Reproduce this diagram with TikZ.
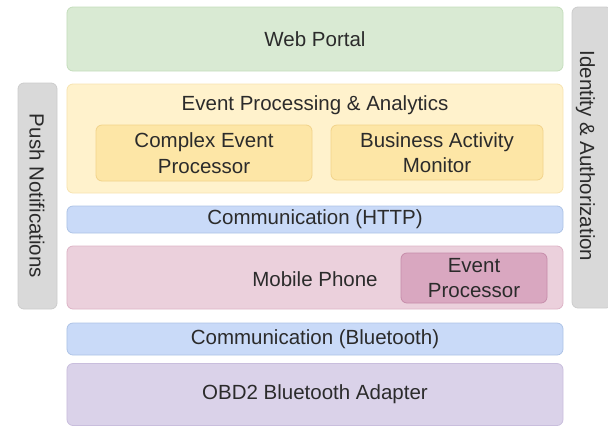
\documentclass[tikz,border=0pt]{standalone}
\usepackage{fontspec}
\setmainfont{Liberation Sans}
\definecolor{txt}{HTML}{2B2B2B}
\definecolor{webfill}{HTML}{D9EAD3}\definecolor{webdraw}{HTML}{C4DDBC}
\definecolor{epafill}{HTML}{FFF2CC}\definecolor{epadraw}{HTML}{F7E3B0}
\definecolor{subfill}{HTML}{FDE6A6}\definecolor{subdraw}{HTML}{F2D38A}
\definecolor{comfill}{HTML}{C9DAF8}\definecolor{comdraw}{HTML}{ADC3E6}
\definecolor{mobfill}{HTML}{EBD0DC}\definecolor{mobdraw}{HTML}{DDB4C6}
\definecolor{evpfill}{HTML}{D9A7C0}\definecolor{evpdraw}{HTML}{C68DAA}
\definecolor{obdfill}{HTML}{DAD2E9}\definecolor{obddraw}{HTML}{C9BEDD}
\definecolor{grayfill}{HTML}{D9D9D9}\definecolor{graydraw}{HTML}{CCCCCC}
\begin{document}
\begin{tikzpicture}[x=1bp,y=-1bp,
  box/.style={rounded corners=6bp, line width=0.8bp, inner sep=0pt, align=center,
    text=txt, font=\fontsize{20.5bp}{25.5bp}\selectfont},
  lbl/.style={inner sep=0pt, align=center, text=txt, font=\fontsize{20.5bp}{25.5bp}\selectfont}]
\useasboundingbox (0,0) rectangle (608,427);
% side bars
\node[box, fill=grayfill, draw=graydraw, minimum width=39bp, minimum height=226bp] (push) at (37.5,196) {};
\node[lbl, rotate=-90] (pushtxt) at (37,196) {Push Notifications};
\node[box, fill=grayfill, draw=graydraw, minimum width=40bp, minimum height=301bp] (ident) at (592,157.5) {};
\node[lbl, rotate=-90] (identtxt) at (585.5,156) {Identity \& Authorization};
% layers
\node[box, fill=webfill, draw=webdraw, minimum width=496bp, minimum height=64bp] (web) at (315,39) {Web Portal};
\node[box, fill=epafill, draw=epadraw, minimum width=496bp, minimum height=109bp] (epa) at (315,138.5) {};
\node[lbl] (epatitle) at (315,105) {Event Processing \& Analytics};
\node[box, fill=subfill, draw=subdraw, minimum width=216bp, minimum height=56bp] (cep) at (204,153) {Complex Event\\Processor};
\node[box, fill=subfill, draw=subdraw, minimum width=212bp, minimum height=55bp] (bam) at (437,152.5) {Business Activity\\Monitor};
\node[box, fill=comfill, draw=comdraw, minimum width=496bp, minimum height=27bp] (http) at (315,219.5) {Communication (HTTP)};
\node[box, fill=mobfill, draw=mobdraw, minimum width=496bp, minimum height=63bp] (mob) at (315,277.5) {};
\node[lbl] (mobtxt) at (315,279) {Mobile Phone};
\node[box, fill=evpfill, draw=evpdraw, minimum width=146bp, minimum height=50bp] (evp) at (474,278) {Event\\Processor};
\node[box, fill=comfill, draw=comdraw, minimum width=496bp, minimum height=32bp] (bt) at (315,339) {Communication (Bluetooth)};
\node[box, fill=obdfill, draw=obddraw, minimum width=496bp, minimum height=62bp] (obd) at (315,394.5) {OBD2 Bluetooth Adapter};
\end{tikzpicture}
\end{document}
